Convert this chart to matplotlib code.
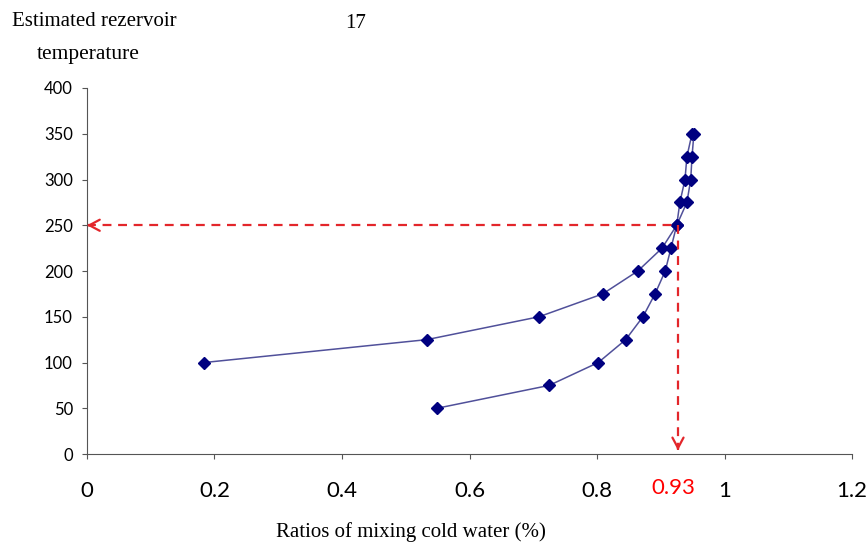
import matplotlib
matplotlib.use('Agg')
import numpy as np
import matplotlib.pyplot as plt

# ratios
temp = [100, 125, 150, 175, 200, 225, 250, 275, 300, 325, 350]
ratio_a = [0.184, 0.533, 0.709, 0.809, 0.864, 0.902, 0.925, 0.930, 0.938, 0.941, 0.949]

temp_b = [50, 75, 100, 125, 150, 175, 200, 225, 250, 275, 300, 325, 350]
ratio_b = [0.549, 0.725, 0.802, 0.845, 0.872, 0.891, 0.907, 0.916, 0.925, 0.941, 0.947, 0.949, 0.952]

xticks = [0, 0.2, 0.4, 0.6, 0.8, 1, 1.2]
xtick_labels = ['0', '0.2', '0.4', '0.6', '0.8', '1', '1.2']
yticks = [0, 50, 100, 150, 200, 250, 300, 350, 400]

est_ratio = 0.927
est_temp = 250

fig = plt.figure(figsize=(8.68, 5.5), dpi=100)
ax = fig.add_axes([0.1002, 0.1745, 0.8814, 0.6655])

line_col = '#50509a'
mark_col = '#000080'
ax.plot(ratio_a, temp, color=line_col, lw=1.1, marker='D', ms=6.5,
        mfc=mark_col, mec=mark_col)
ax.plot(ratio_b, temp_b, color=line_col, lw=1.1, marker='D', ms=6.5,
        mfc=mark_col, mec=mark_col)

# red dashed read-off lines, solid open heads
red = '#e3262b'
ax.plot([0.0, est_ratio], [est_temp, est_temp], color=red, lw=1.6, ls=(0, (4, 3)))
ax.plot([est_ratio, est_ratio], [est_temp, 4], color=red, lw=1.6, ls=(0, (4, 3)))
astyle = '->,head_length=0.75,head_width=0.4'
ax.annotate('', xy=(0.0, est_temp), xytext=(0.004, est_temp),
            arrowprops=dict(arrowstyle=astyle, color=red, lw=1.6,
                            shrinkA=0, shrinkB=0))
ax.annotate('', xy=(est_ratio, 4), xytext=(est_ratio, 7),
            arrowprops=dict(arrowstyle=astyle, color=red, lw=1.6,
                            shrinkA=0, shrinkB=0))

ax.set_xlim(0, 1.2)
ax.set_ylim(0, 400)
ax.spines['top'].set_visible(False)
ax.spines['right'].set_visible(False)
ax.spines['left'].set_color('#555555')
ax.spines['bottom'].set_color('#555555')

ax.set_yticks(yticks)
ax.set_yticklabels([str(v) for v in yticks], fontsize=12, family='Lato')
ax.tick_params(axis='y', length=3.6, color='#555555', pad=6.5)

ax.set_xticks(xticks)
ax.set_xticklabels(xtick_labels, fontsize=16, family='Lato')
ax.tick_params(axis='x', length=3.6, color='#555555', pad=16)

ax.text(0.92, -37, '0.93', color='red', fontsize=16, family='Lato',
        ha='center', va='center')

fig.text(0.014, 0.96, 'Estimated rezervoir', family='Liberation Serif',
         fontsize=15, ha='left', va='center')
fig.text(0.042, 0.9, 'temperature', family='Liberation Serif',
         fontsize=15.5, ha='left', va='center')
fig.text(0.41, 0.958, '17', family='Liberation Serif', fontsize=15,
         ha='center', va='center')

fig.text(0.474, 0.033, 'Ratios of mixing cold water (%)', family='Liberation Serif',
         fontsize=15, ha='center', va='center')

plt.savefig('out.png', dpi=100)
